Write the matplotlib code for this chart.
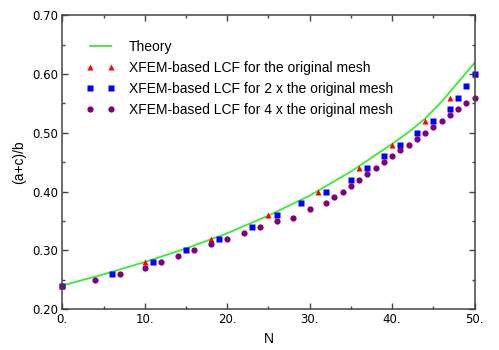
import numpy as np
import matplotlib
matplotlib.use("Agg")
import matplotlib.pyplot as plt

# theory curve
theory_n = [0, 5, 10, 15, 20, 25, 30, 35, 40, 42, 44, 46, 48, 50]
theory_y = [0.240, 0.259, 0.280, 0.303, 0.329, 0.359, 0.393, 0.434, 0.481,
            0.501, 0.524, 0.553, 0.586, 0.619]

# XFEM-based LCF, original mesh
orig_n = [0, 10, 18, 25, 31, 36, 40, 44, 47, 50]
orig_y = [0.24, 0.28, 0.32, 0.36, 0.40, 0.44, 0.48, 0.52, 0.56, 0.60]

# 2 x original mesh
x2_n = [0, 6, 11, 15, 19, 23, 26, 29, 32, 35, 37, 39, 41, 43, 45, 47, 48, 49, 50]
x2_y = [0.24, 0.26, 0.28, 0.30, 0.32, 0.34, 0.36, 0.38, 0.40, 0.42, 0.44,
        0.46, 0.48, 0.50, 0.52, 0.54, 0.56, 0.58, 0.60]

# 4 x original mesh
x4_n = [0, 4, 7, 10, 12, 14, 16, 18, 20, 22, 24, 26, 28, 30, 32, 33, 34, 35,
        36, 37, 38, 39, 40, 41, 42, 43, 44, 45, 46, 47, 48, 49, 50]
x4_y = [0.24, 0.25, 0.26, 0.27, 0.28, 0.29, 0.30, 0.31, 0.32, 0.33, 0.34,
        0.35, 0.355, 0.37, 0.38, 0.39, 0.40, 0.41, 0.42, 0.43, 0.44, 0.45,
        0.46, 0.47, 0.48, 0.49, 0.50, 0.51, 0.52, 0.53, 0.54, 0.55, 0.56]

x_ticks = [0, 10, 20, 30, 40, 50]
x_tick_labels = ["0.", "10.", "20.", "30.", "40.", "50."]
y_ticks = [0.2, 0.3, 0.4, 0.5, 0.6, 0.7]
y_tick_labels = ["0.20", "0.30", "0.40", "0.50", "0.60", "0.70"]

labels = ["Theory",
          "XFEM-based LCF for the original mesh",
          "XFEM-based LCF for 2 x the original mesh",
          "XFEM-based LCF for 4 x the original mesh"]

plt.rcParams['font.family'] = ['Liberation Sans', 'DejaVu Sans']

fig = plt.figure(figsize=(4.99, 3.5), dpi=100)
ax = fig.add_axes([0.1248, 0.1171, 0.951 - 0.1248, 0.9563 - 0.1171])

ax.plot(theory_n, theory_y, color='#33ee33', lw=1.3, label=labels[0])
ax.plot(orig_n, orig_y, ls='none', marker='^', ms=4.8, color='#ff0000',
        mec='none', clip_on=False, label=labels[1])
ax.plot(x2_n, x2_y, ls='none', marker='s', ms=5, color='#0000ff',
        mec='none', clip_on=False, label=labels[2])
ax.plot(x4_n, x4_y, ls='none', marker='o', ms=4.5, color='#800080',
        mec='none', clip_on=False, label=labels[3])

ax.set_xlim(0, 50)
ax.set_ylim(0.2, 0.7)
ax.set_xticks(x_ticks)
ax.set_xticklabels(x_tick_labels, family='DejaVu Sans', fontsize=8.5)
ax.set_yticks(y_ticks)
ax.set_yticklabels(y_tick_labels, family='DejaVu Sans', fontsize=8.5)
ax.set_xticks(np.arange(5, 50, 10), minor=True)
ax.set_yticks(np.arange(0.25, 0.7, 0.1), minor=True)
ax.tick_params(which='both', direction='in', top=True, right=True,
               color='#444444', width=1)
ax.tick_params(which='major', length=4.5, pad=3)
ax.tick_params(which='minor', length=2.5)
for s in ax.spines.values():
    s.set_color('#444444')
    s.set_linewidth(1.1)

ax.set_xlabel("N", fontsize=10, labelpad=4)
ax.set_ylabel("(a+c)/b", fontsize=10, labelpad=4)

ax.legend(loc='upper left', bbox_to_anchor=(86 / 499, 1 - 40 / 350),
          bbox_transform=fig.transFigure, frameon=False, fontsize=10,
          numpoints=2, handlelength=2.1, handletextpad=1.0,
          labelspacing=0.5, borderpad=0, borderaxespad=0)

fig.savefig("out.png", dpi=100)
